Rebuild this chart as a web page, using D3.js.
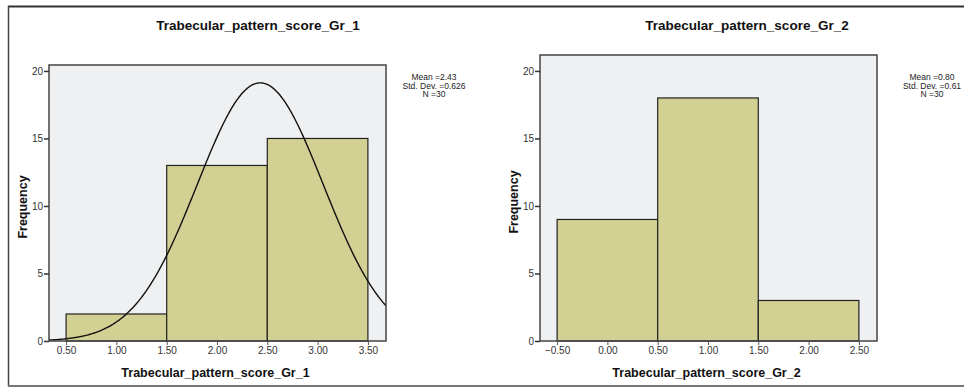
<!DOCTYPE html>
<html>
<head>
<meta charset="utf-8">
<script src="https://cdn.jsdelivr.net/npm/d3@7"></script>
<style>
  body { margin: 0; background: #fff; }
  svg text { font-family: "Liberation Sans", Arial, sans-serif; }
</style>
</head>
<body>
<div id="chart"></div>
<script>
// histogram bins (lower edge, upper edge) and counts
const gr1Edges = [0.5, 1.5, 2.5, 3.5];
const gr1Counts = [2, 13, 15];
const gr1Ticks = [0.5, 1.0, 1.5, 2.0, 2.5, 3.0, 3.5];
const gr1Stats = ['Mean =2.43', 'Std. Dev. =0.626', 'N =30'];
const gr1Mean = 2.43, gr1Sd = 0.626, gr1N = 30;

const gr2Edges = [-0.5, 0.5, 1.5, 2.5];
const gr2Counts = [9, 18, 3];
const gr2Ticks = [-0.5, 0.0, 0.5, 1.0, 1.5, 2.0, 2.5];
const gr2Stats = ['Mean =0.80', 'Std. Dev. =0.61', 'N =30'];

const yTicks = [0, 5, 10, 15, 20];

const W = 964, H = 390;
const svg = d3.select('#chart').append('svg')
  .attr('width', W).attr('height', H);

// outer frame
svg.append('line').attr('x1', 8).attr('x2', W).attr('y1', 6.5).attr('y2', 6.5)
  .attr('stroke', '#333').attr('stroke-width', 2);
svg.append('line').attr('x1', 8.5).attr('x2', 8.5).attr('y1', 6).attr('y2', 386)
  .attr('stroke', '#444').attr('stroke-width', 1.5);
svg.append('line').attr('x1', 8).attr('x2', W).attr('y1', 386).attr('y2', 386)
  .attr('stroke', '#777').attr('stroke-width', 2);

function panel(opt) {
  const { left, right, top, bottom, xDomain, yMax, edges, counts, ticks, title, titleX, stats, statsX, curve } = opt;
  const x = d3.scaleLinear().domain(xDomain).range([left, right]);
  const y = d3.scaleLinear().domain([0, yMax]).range([bottom, top]);
  const g = svg.append('g');

  g.append('rect').attr('x', left).attr('y', top)
    .attr('width', right - left).attr('height', bottom - top)
    .attr('fill', '#eef0f1');

  const bins = counts.map((c, i) => ({ x0: edges[i], x1: edges[i + 1], c }));
  g.selectAll('.bar').data(bins).enter().append('rect')
    .attr('class', 'bar')
    .attr('x', d => x(d.x0))
    .attr('y', d => y(d.c))
    .attr('width', d => x(d.x1) - x(d.x0))
    .attr('height', d => y(0) - y(d.c))
    .attr('fill', '#d3d093')
    .attr('stroke', '#222')
    .attr('stroke-width', 1.2);

  if (curve) {
    // normal curve fitted from the mean / sd / N printed on the chart
    const bw = edges[1] - edges[0];
    const pts = d3.range(xDomain[0], xDomain[1] + 0.001, 0.01).map(v => [v,
      curve.n * bw / (curve.sd * Math.sqrt(2 * Math.PI)) * Math.exp(-0.5 * ((v - curve.mean) / curve.sd) ** 2)]);
    g.append('path').datum(pts)
      .attr('d', d3.line().x(d => x(d[0])).y(d => y(d[1])).curve(d3.curveBasis))
      .attr('fill', 'none').attr('stroke', '#111').attr('stroke-width', 1.4);
  }

  // frame of plot area
  g.append('rect').attr('x', left).attr('y', top)
    .attr('width', right - left).attr('height', bottom - top)
    .attr('fill', 'none').attr('stroke', '#444').attr('stroke-width', 1.5);

  const yAxis = g.append('g').attr('transform', `translate(${left},0)`)
    .call(d3.axisLeft(y).tickValues(yTicks).tickSize(5).tickPadding(1));
  yAxis.select('.domain').remove();
  yAxis.selectAll('line').attr('stroke', '#333').attr('stroke-width', 1.5);
  yAxis.selectAll('text').attr('font-size', 10).attr('fill', '#333');

  const xAxis = g.append('g').attr('transform', `translate(0,${bottom})`)
    .call(d3.axisBottom(x).tickValues(ticks).tickFormat(d3.format('.2f')).tickSize(4).tickPadding(2));
  xAxis.select('.domain').remove();
  xAxis.selectAll('line').attr('stroke', '#555');
  xAxis.selectAll('text').attr('font-size', 10).attr('fill', '#333');

  g.append('text').attr('x', titleX).attr('y', 30)
    .attr('text-anchor', 'middle').attr('font-size', 13.5).attr('font-weight', 'bold')
    .attr('fill', '#111').text(title);

  g.append('text').attr('x', (left + right) / 2 - 2).attr('y', 377)
    .attr('text-anchor', 'middle').attr('font-size', 12.5).attr('font-weight', 'bold')
    .attr('fill', '#111').text(title);

  g.append('text')
    .attr('transform', `translate(${left - 22},${(top + bottom) / 2 + 4}) rotate(-90)`)
    .attr('text-anchor', 'middle').attr('font-size', 12.5).attr('font-weight', 'bold')
    .attr('fill', '#111').text('Frequency');

  g.selectAll('.stat').data(stats).enter().append('text')
    .attr('class', 'stat')
    .attr('x', statsX).attr('y', (d, i) => 80 + i * 8.5)
    .attr('text-anchor', 'middle').attr('font-size', 8.5).attr('fill', '#222')
    .text(d => d);
}

panel({
  left: 49, right: 386, top: 65, bottom: 341,
  xDomain: [0.33, 3.68], yMax: 20.44,
  edges: gr1Edges, counts: gr1Counts, ticks: gr1Ticks,
  title: 'Trabecular_pattern_score_Gr_1', titleX: 258,
  stats: gr1Stats, statsX: 434,
  curve: { mean: gr1Mean, sd: gr1Sd, n: gr1N }
});

panel({
  left: 540, right: 877, top: 55, bottom: 341,
  xDomain: [-0.67, 2.68], yMax: 21.18,
  edges: gr2Edges, counts: gr2Counts, ticks: gr2Ticks,
  title: 'Trabecular_pattern_score_Gr_2', titleX: 747,
  stats: gr2Stats, statsX: 932,
  curve: null
});
</script>
</body>
</html>
